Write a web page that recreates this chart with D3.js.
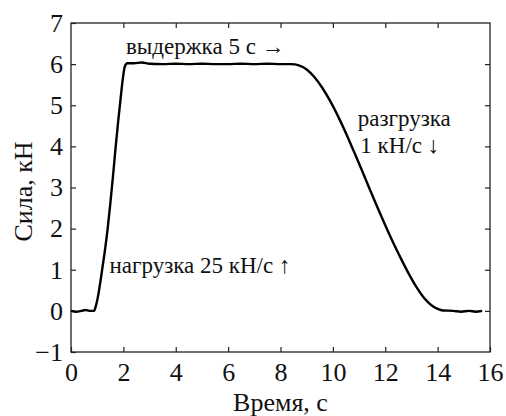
<!DOCTYPE html>
<html>
<head>
<meta charset="utf-8">
<script src="https://cdn.jsdelivr.net/npm/d3@7"></script>
<style>
  body { margin: 0; background: #fff; }
  svg { display: block; }
  svg text { font-family: "Times New Roman", "Liberation Serif", "DejaVu Serif", serif; }
  .frame { fill: none; stroke: #222; stroke-width: 1.3; }
  .tick line { stroke: #222; stroke-width: 1.2; }
  .line { fill: none; stroke: #000; stroke-width: 2.4; stroke-linejoin: round; }
</style>
</head>
<body>
<svg class="chart"></svg>
<script>
// время, с
const timeS = [0.0, 0.2, 0.4, 0.55, 0.7, 0.88, 0.95, 1.05, 1.12, 1.2, 1.28, 1.4, 1.5, 1.6, 1.7, 1.8, 1.9, 1.98, 2.05, 2.15,
  2.4, 2.7, 3.0, 3.5, 4.0, 4.5, 5.0, 5.5, 6.0, 6.5, 7.0, 7.5, 8.0, 8.4, 8.7, 9.0, 9.3, 9.6, 9.9, 10.2, 10.5, 10.8,
  11.1, 11.4, 11.7, 12.0, 12.3, 12.6, 12.9, 13.2, 13.5, 13.8, 14.0, 14.2, 14.6, 14.9, 15.2, 15.45, 15.7];
// сила, кН
const forceKN = [0.0, -0.02, 0.0, 0.02, 0.0, 0.0, 0.12, 0.42, 0.7, 1.05, 1.4, 2.0, 2.6, 3.25, 3.95, 4.6, 5.2, 5.65, 5.93, 6.02,
  6.02, 6.04, 6.01, 6.0, 6.01, 6.0, 6.01, 6.0, 6.0, 6.01, 6.0, 6.01, 6.0, 6.0, 5.97, 5.87, 5.68, 5.42, 5.1, 4.73, 4.32, 3.88,
  3.43, 2.97, 2.52, 2.08, 1.66, 1.27, 0.9, 0.57, 0.3, 0.12, 0.05, 0.01, 0.0, -0.02, 0.0, -0.02, 0.0];

const xTicks = [0, 2, 4, 6, 8, 10, 12, 14, 16];
const yTicks = [-1, 0, 1, 2, 3, 4, 5, 6, 7];

const notes = [
  { text: "выдержка 5 с →", t: 2.1, f: 6.25 },
  { text: "нагрузка 25 кН/с ↑", t: 1.47, f: 0.92 },
  { text: "разгрузка", t: 10.95, f: 4.5 },
  { text: "1 кН/с ↓", t: 11.05, f: 3.85 }
];

const W = 506, H = 416;
const margin = {top: 23, right: 16, bottom: 64, left: 71},
    width = W - margin.left - margin.right,
    height = H - margin.top - margin.bottom;

const svg = d3.select(".chart").attr("width", W).attr("height", H);
const g = svg.append("g").attr("transform", "translate(" + margin.left + "," + margin.top + ")");

const x = d3.scaleLinear().domain([0, 16]).range([0, width]);
const y = d3.scaleLinear().domain([-1, 7]).range([height, 0]);

const fmt = d => d < 0 ? "\u2212" + Math.abs(d) : d;

// нижняя ось
g.append("g")
  .call(d3.axisBottom(x).tickValues(xTicks).tickSizeInner(-5).tickSizeOuter(0).tickFormat(fmt))
  .attr("transform", "translate(0," + height + ")")
  .call(a => a.select(".domain").remove())
  .call(a => a.selectAll("text").attr("y", 11).attr("dy", "0.71em")
    .attr("font-size", 26).attr("fill", "#111"));

// верхняя ось
g.append("g")
  .call(d3.axisTop(x).tickValues(xTicks.slice(1, -1)).tickSizeInner(-5).tickSizeOuter(0).tickFormat(""))
  .call(a => a.select(".domain").remove());

// левая ось
g.append("g")
  .call(d3.axisLeft(y).tickValues(yTicks).tickSizeInner(-5).tickSizeOuter(0).tickFormat(fmt))
  .call(a => a.select(".domain").remove())
  .call(a => a.selectAll("text").attr("x", -8)
    .attr("font-size", 26).attr("fill", "#111"));

// правая ось
g.append("g")
  .attr("transform", "translate(" + width + ",0)")
  .call(d3.axisRight(y).tickValues(yTicks.slice(1, -1)).tickSizeInner(-5).tickSizeOuter(0).tickFormat(""))
  .call(a => a.select(".domain").remove());

g.append("rect").attr("class", "frame")
  .attr("width", width).attr("height", height);

const line = d3.line()
  .x((d, i) => x(timeS[i]))
  .y(d => y(d))
  .curve(d3.curveMonotoneX);

g.append("path")
  .datum(forceKN)
  .attr("class", "line")
  .attr("d", line);

g.selectAll(".note")
  .data(notes)
  .enter().append("text")
  .attr("class", "note")
  .attr("x", d => x(d.t))
  .attr("y", d => y(d.f))
  .attr("font-size", 23)
  .attr("fill", "#111")
  .text(d => d.text);

svg.append("text")
  .attr("x", margin.left + width / 2)
  .attr("y", 411)
  .attr("text-anchor", "middle")
  .attr("font-size", 26)
  .attr("fill", "#111")
  .text("Время, с");

svg.append("text")
  .attr("transform", "translate(32," + (margin.top + height / 2 + 4) + ") rotate(-90)")
  .attr("text-anchor", "middle")
  .attr("font-size", 26)
  .attr("fill", "#111")
  .text("Сила, кН");
</script>
</body>
</html>
